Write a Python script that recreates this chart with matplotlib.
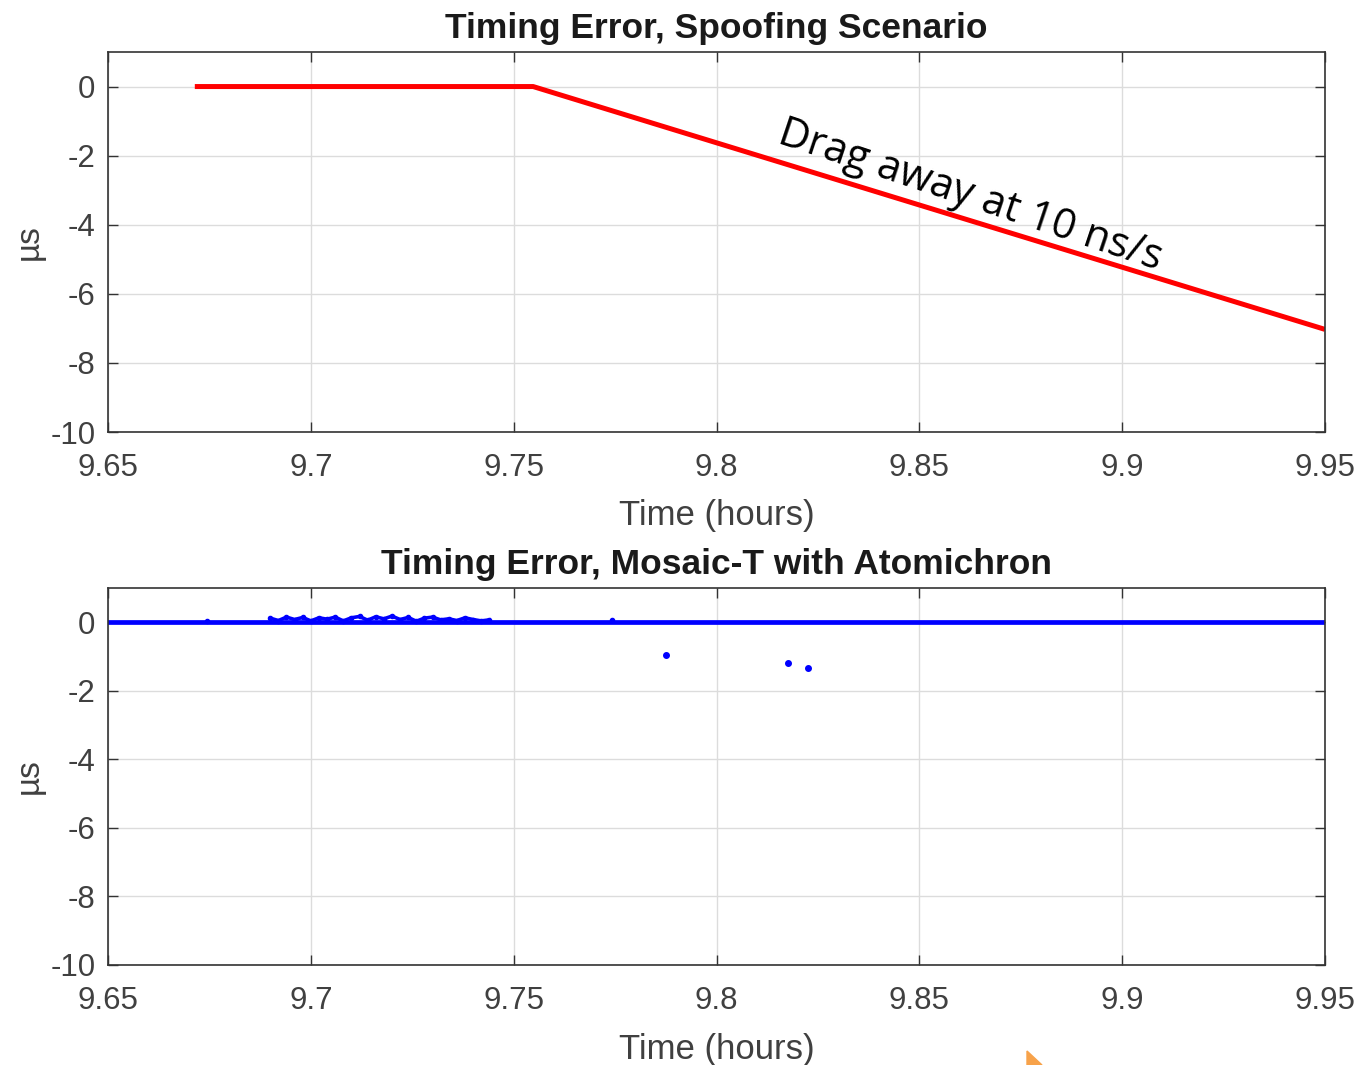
import matplotlib.pyplot as plt
from matplotlib.patches import Polygon

# spoofing scenario: flat, then drag away at 10 ns/s (36 us/h)
spoof_t = [9.6714, 9.7548, 9.95]
spoof_err = [0.0, 0.0, -7.03]

# Mosaic-T with Atomichron: baseline near zero
base_t = [9.65, 9.95]
base_err = [0.0, 0.0]

# small wiggle cluster just above zero
cluster_t = [9.690, 9.692, 9.694, 9.696, 9.698, 9.700, 9.702, 9.704, 9.706,
             9.708, 9.710, 9.712, 9.714, 9.716, 9.718, 9.720, 9.722, 9.724,
             9.726, 9.728, 9.730, 9.732, 9.734, 9.736, 9.738, 9.740, 9.742, 9.744]
cluster_err = [0.12, 0.05, 0.15, 0.08, 0.14, 0.04, 0.13, 0.09, 0.15, 0.04,
               0.13, 0.17, 0.06, 0.16, 0.10, 0.18, 0.08, 0.14, 0.03, 0.12,
               0.15, 0.07, 0.10, 0.05, 0.13, 0.08, 0.04, 0.07]

# stray samples
blip_t = [9.6745, 9.7742]
blip_err = [0.04, 0.06]
out_t = [9.7875, 9.8176, 9.8225]
out_err = [-0.96, -1.2, -1.34]

xticks = [9.65, 9.7, 9.75, 9.8, 9.85, 9.9, 9.95]
xticklabels = ['9.65', '9.7', '9.75', '9.8', '9.85', '9.9', '9.95']
yticks = [-10, -8, -6, -4, -2, 0]

plt.rcParams['font.family'] = ['Liberation Sans', 'DejaVu Sans']
plt.rcParams['axes.unicode_minus'] = False

fig = plt.figure(figsize=(13.59, 10.65), dpi=100)
W, H = 1359, 1065
ax1 = fig.add_axes([108 / W, (H - 432) / H, 1217 / W, 380 / H])
ax2 = fig.add_axes([108 / W, (H - 965) / H, 1217 / W, 377 / H])

ax1.plot(spoof_t, spoof_err, color='#ff0000', lw=3.6, solid_capstyle='butt')

ax2.plot(base_t, base_err, color='#0000ff', lw=3.4)
ax2.plot(cluster_t, cluster_err, color='#0000ff', lw=2.6, marker='o', ms=3)
ax2.plot(blip_t, blip_err, 'o', color='#0000ff', ms=3)
ax2.plot(out_t, out_err, 'o', color='#0000ff', ms=4)

titles = ['Timing Error, Spoofing Scenario', 'Timing Error, Mosaic-T with Atomichron']
for ax, title in zip([ax1, ax2], titles):
    ax.set_xlim(9.65, 9.95)
    ax.set_ylim(-10, 1)
    ax.set_xticks(xticks)
    ax.set_xticklabels(xticklabels)
    ax.set_yticks(yticks)
    ax.grid(True, color='#dcdcdc', lw=1)
    ax.set_axisbelow(True)
    ax.tick_params(direction='in', length=7, width=1, colors='#333333',
                   labelsize=22.5, labelcolor='#404040', top=True, right=True)
    ax.tick_params(axis='x', pad=15)
    ax.tick_params(axis='y', pad=9)
    for s in ax.spines.values():
        s.set_color('#333333')
        s.set_linewidth(1.2)
    ax.set_title(title, fontsize=25.5, fontweight='bold', color='#1a1a1a', pad=10)
    ax.set_xlabel('Time (hours)', fontsize=25, color='#404040', labelpad=12)
    ax.set_ylabel('µs', fontsize=24, color='#404040', labelpad=4)

ax1.text(9.8626, -3.15, 'Drag away at 10 ns/s', rotation=-18.5, fontsize=30,
         family=['Open Sans', 'DejaVu Sans'], color='black',
         ha='center', va='center', rotation_mode='anchor')

# small orange corner mark at bottom of slide
fig.patches.append(Polygon([[1027 / W, 14 / H], [1042 / W, 0], [1027 / W, 0]],
                           closed=True, transform=fig.transFigure,
                           color='#f7a24a', zorder=5))

fig.savefig('out.png', dpi=100, facecolor='white')
